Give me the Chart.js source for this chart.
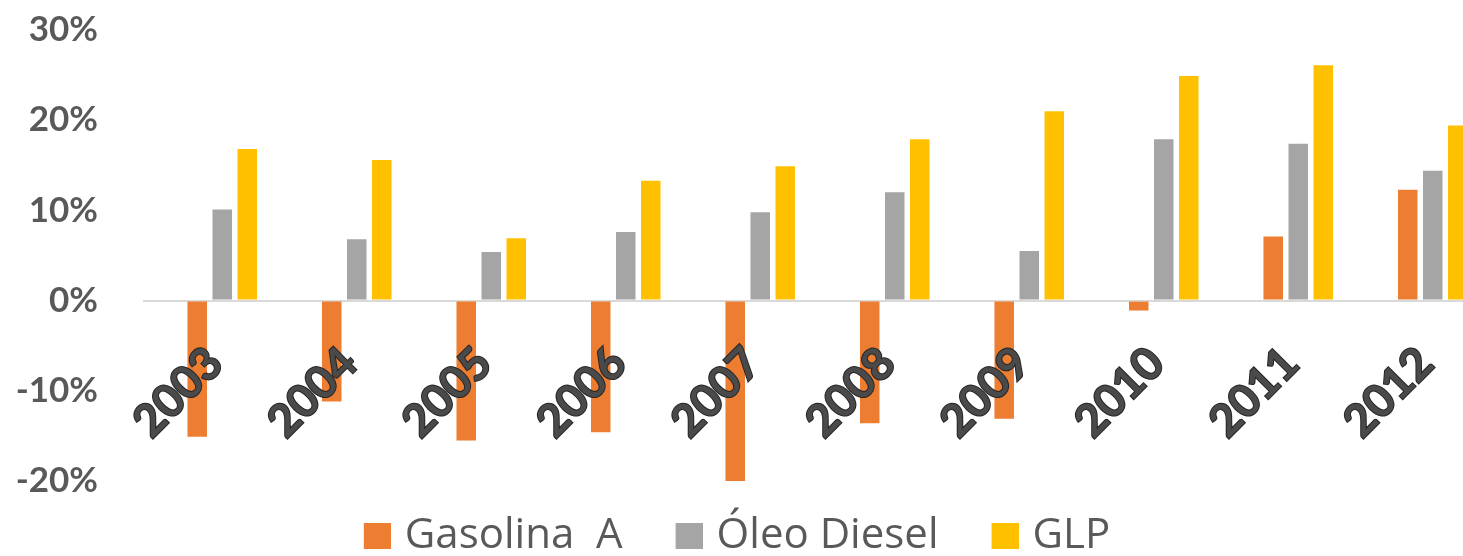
<!DOCTYPE html>
<html>
<head>
<meta charset="utf-8">
<script src="https://cdn.jsdelivr.net/npm/chart.js@4"></script>
<style>
  html, body { margin: 0; padding: 0; background: #fff; overflow: hidden; width: 1463px; height: 556px; }
  #wrap { position: absolute; left: -45px; top: 0; width: 1545px; height: 556px; }
</style>
</head>
<body>
<div id="wrap"><canvas id="c" width="1545" height="556"></canvas></div>
<script>
// Annual change (%) by fuel, 2003–2012
const years = ['2003', '2004', '2005', '2006', '2007', '2008', '2009', '2010', '2011', '2012'];
const gasolinaA = [-15.1, -11.2, -15.5, -14.6, -20.1, -13.6, -13.1, -1.1, 7.1, 12.3];
const oleoDiesel = [10.1, 6.8, 5.4, 7.6, 9.8, 12.0, 5.5, 17.9, 17.4, 14.4];
const glp = [16.8, 15.6, 6.9, 13.3, 14.9, 17.9, 21.0, 24.9, 26.1, 19.4];
const seriesNames = ['Gasolina  A', 'Óleo Diesel', 'GLP'];
const seriesColors = ['#ED7D31', '#A5A5A5', '#FFC000'];
const yTicks = [-20, -10, 0, 10, 20, 30];

// Legend swatch: 27px square on the right, blank lead-in on the left for item spacing
function swatch(color) {
  const c = document.createElement('canvas');
  c.width = 53; c.height = 26;
  const g = c.getContext('2d');
  g.fillStyle = color;
  g.fillRect(26, 0, 27, 26);
  return c;
}
const swatches = seriesColors.map(swatch);

const series = [gasolinaA, oleoDiesel, glp];
const datasets = series.map((d, i) => ({
  label: seriesNames[i],
  data: d,
  backgroundColor: seriesColors[i],
  borderWidth: 0,
  categoryPercentage: 0.558,
  barPercentage: 0.78
}));

new Chart(document.getElementById('c'), {
  type: 'bar',
  data: { labels: years, datasets },
  options: {
    responsive: false,
    animation: false,
    layout: { padding: { top: 30, left: 0, right: 0, bottom: 0 } },
    plugins: {
      tooltip: { enabled: false },
      legend: {
        position: 'bottom',
        maxHeight: 75,
        labels: {
          usePointStyle: true,
          pointStyleWidth: 39,
          padding: 34,
          color: '#595959',
          font: { family: 'Open Sans', size: 42 },
          generateLabels(chart) {
            const items = Chart.defaults.plugins.legend.labels.generateLabels(chart);
            items.forEach((it, i) => { it.pointStyle = swatches[i]; });
            return items;
          }
        }
      }
    },
    scales: {
      x: {
        position: { y: 0 },
        grid: { display: false, drawTicks: false },
        border: { display: false },
        ticks: {
          z: 1,
          minRotation: 45,
          maxRotation: 45,
          autoSkip: false,
          padding: 36,
          labelOffset: -7,
          color: '#4a4a4a',
          textStrokeColor: '#262626',
          textStrokeWidth: 2,
          font: { family: 'Lato', size: 45, weight: 'bold' }
        },
        afterFit(s) { s.paddingLeft = 0; s.paddingRight = 0; }
      },
      y: {
        min: yTicks[0],
        max: yTicks[yTicks.length - 1],
        afterFit(s) { s.width = 200; s.paddingTop = 0; s.paddingBottom = 0; },
        afterBuildTicks(s) { s.ticks = yTicks.map(v => ({ value: v })); },
        border: { display: false },
        grid: {
          color: c => (c.tick && c.tick.value === 0 ? '#d9d9d9' : 'rgba(0,0,0,0)'),
          lineWidth: 2,
          tickLength: 12
        },
        ticks: {
          padding: 45,
          color: '#595959',
          font: { family: 'Lato', size: 35, weight: 'bold' },
          callback: v => v + '%'
        }
      }
    }
  }
});
</script>
</body>
</html>
